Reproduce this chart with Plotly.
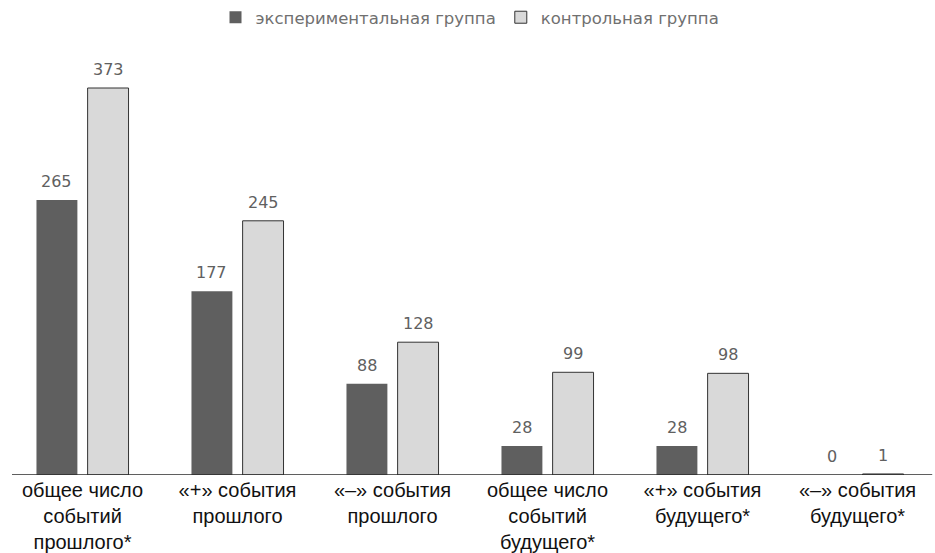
import plotly.graph_objects as go

categories = [
    "общее число<br>событий<br>прошлого*",
    "«+» события<br>прошлого",
    "«–» события<br>прошлого",
    "общее число<br>событий<br>будущего*",
    "«+» события<br>будущего*",
    "«–» события<br>будущего*",
]
experimental = [265, 177, 88, 28, 28, 0]
control = [373, 245, 128, 99, 98, 1]

BARGAP = 0.34
BARGROUPGAP = 0.2
PLOT_W = 930  # px width of the plotting area

value_font = dict(family="DejaVu Sans, Verdana, sans-serif", size=16, color="#606060")

fig = go.Figure()
fig.add_trace(go.Bar(
    name="экспериментальная группа",
    x=categories, y=experimental,
    marker=dict(color="#5f5f5f", line=dict(width=0)),
))
fig.add_trace(go.Bar(
    name="контрольная группа",
    x=categories, y=control,
    marker=dict(color="#d9d9d9", line=dict(color="#333333", width=1)),
))

# value labels above each bar, shifted to the bar's slot within its group
slot = PLOT_W / len(categories) * (1 - BARGAP) / 2
for series, shift in ((experimental, -slot / 2), (control, slot / 2)):
    for cat, v in zip(categories, series):
        fig.add_annotation(
            x=cat, y=v, text=str(v), showarrow=False,
            xshift=shift, yshift=7, yanchor="bottom",
            font=value_font,
        )

# baseline
fig.add_shape(type="line", xref="paper", yref="y",
              x0=0.0075, x1=0.997, y0=0, y1=0,
              line=dict(color="#2a2a2a", width=1.5))

fig.update_layout(
    width=935, height=553,
    margin=dict(l=5, r=0, t=60, b=78, autoexpand=False),
    barmode="group", bargap=BARGAP, bargroupgap=BARGROUPGAP,
    plot_bgcolor="white", paper_bgcolor="white",
    showlegend=True,
    legend=dict(
        orientation="h", x=0.5, xanchor="center", y=1.0, yanchor="top",
        yref="container",
        font=dict(family="DejaVu Sans, Verdana, sans-serif", size=16.5, color="#707070"),
        itemwidth=30,
    ),
)
fig.update_xaxes(
    showline=False, automargin=False,
    tickfont=dict(family="Liberation Sans, Arial, sans-serif", size=20, color="#111111"),
    ticks="", showgrid=False, ticklabelstandoff=1,
)
fig.update_yaxes(range=[0, 400], visible=False, showgrid=False)

fig.write_html("out.html")
